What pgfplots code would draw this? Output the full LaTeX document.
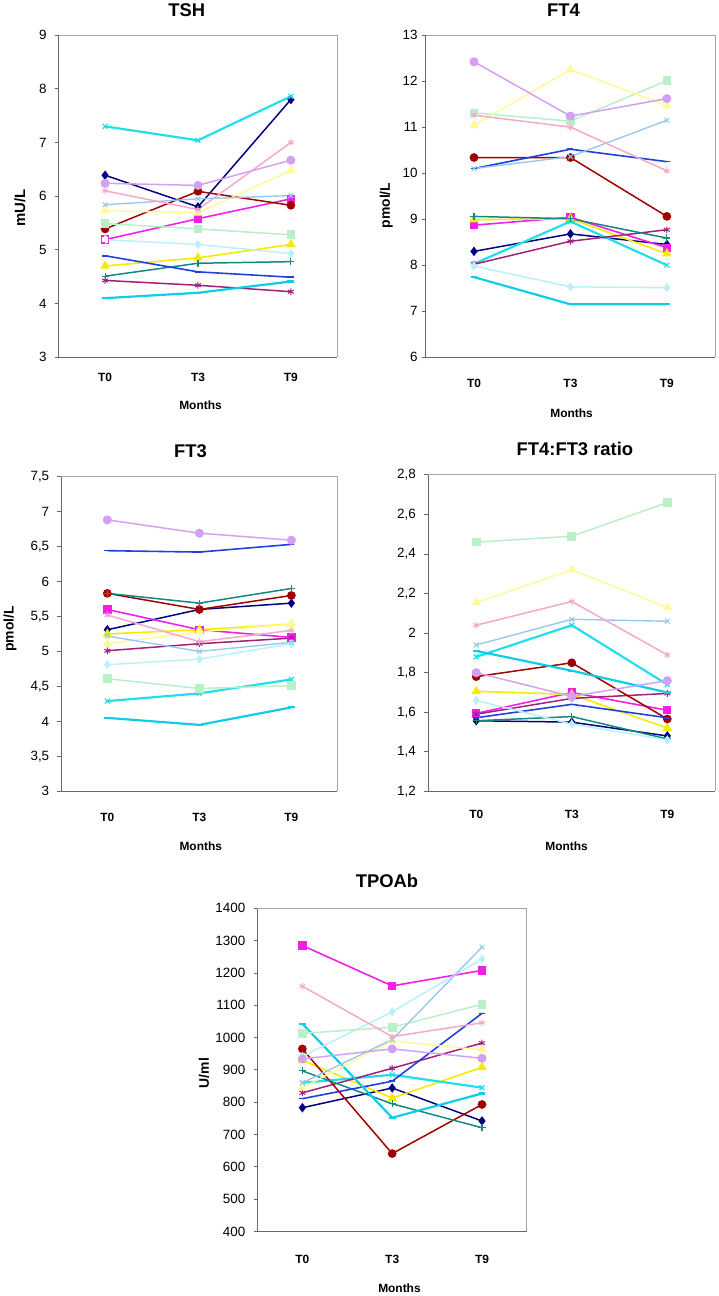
\documentclass[border=0pt]{standalone}
\usepackage{fontspec}
\setmainfont{Liberation Sans}
\usepackage{pgfplots}
\usepackage{pgfplotstable}
\pgfplotsset{compat=1.18}

% Excel-style series colours
\definecolor{cNavy}{HTML}{000080}
\definecolor{cMag}{HTML}{F020E8}
\definecolor{cYel}{HTML}{F4EC00}
\definecolor{cCyan}{HTML}{22DDEE}
\definecolor{cPur}{HTML}{A0207A}
\definecolor{cDred}{HTML}{A00000}
\definecolor{cTeal}{HTML}{108A80}
\definecolor{cBlue}{HTML}{2040DD}
\definecolor{cSky}{HTML}{10CCE8}
\definecolor{cLturq}{HTML}{B8F2F8}
\definecolor{cLgreen}{HTML}{B8F0C8}
\definecolor{cLyel}{HTML}{FFFA99}
\definecolor{cPblue}{HTML}{99C8EE}
\definecolor{cRose}{HTML}{F4A8CC}
\definecolor{cLav}{HTML}{D4A0F4}

% columns: s1 navy, s2 magenta, s3 yellow, s4 cyan, s5 purple, s6 dark red, s7 teal,
% s8 blue, s9 sky, s10 light turquoise, s11 light green, s12 light yellow,
% s13 pale blue, s14 rose, s15 lavender
\pgfplotstableread{
x s1 s2 s3 s4 s5 s6 s7 s8 s9 s10 s11 s12 s13 s14 s15
0 6.39 5.19 4.70 7.30 4.43 5.39 4.51 4.89 4.10 5.19 5.49 5.73 5.84 6.10 6.24
1 5.80 5.58 4.85 7.04 4.34 6.09 4.75 4.59 4.20 5.10 5.39 5.69 5.95 5.75 6.20
2 7.80 5.95 5.10 7.86 4.22 5.83 4.78 4.49 4.41 4.93 5.28 6.48 6.01 7.00 6.67
}\tsh

\pgfplotstableread{
x s1 s2 s3 s4 s5 s6 s7 s8 s9 s10 s11 s12 s13 s14 s15
0 8.30 8.87 8.99 8.03 8.02 10.34 9.06 10.10 7.74 7.98 11.31 11.04 10.10 11.26 12.42
1 8.68 9.04 9.01 8.95 8.52 10.34 9.01 10.52 7.15 7.53 11.13 12.25 10.36 11.00 11.24
2 8.45 8.38 8.25 8.00 8.77 9.06 8.59 10.25 7.15 7.51 12.01 11.47 11.15 10.05 11.62
}\ftfour

\pgfplotstableread{
x s1 s2 s3 s4 s5 s6 s7 s8 s9 s10 s11 s12 s13 s14 s15
0 5.31 5.60 5.25 4.29 5.01 5.83 5.83 6.44 4.05 4.81 4.61 5.11 5.22 5.52 6.88
1 5.60 5.31 5.31 4.40 5.11 5.60 5.69 6.42 3.95 4.89 4.47 5.28 5.00 5.14 6.69
2 5.69 5.20 5.39 4.60 5.19 5.80 5.90 6.53 4.20 5.11 4.51 5.39 5.13 5.30 6.59
}\ftthree

\pgfplotstableread{
x s1 s2 s3 s4 s5 s6 s7 s8 s9 s10 s11 s12 s13 s14 s15
0 1.557 1.594 1.706 1.88 1.59 1.78 1.557 1.572 1.91 1.66 2.46 2.155 1.94 2.04 1.80
1 1.55 1.70 1.69 2.04 1.67 1.85 1.578 1.64 1.81 1.54 2.49 2.32 2.07 2.16 1.68
2 1.48 1.61 1.52 1.74 1.695 1.566 1.465 1.572 1.70 1.46 2.66 2.13 2.06 1.89 1.76
}\ratio

\pgfplotstableread{
x s1 s2 s3 s4 s5 s6 s7 s8 s9 s10 s11 s12 s13 s14 s15
0 783 1285 930 860 829 965 897 811 1043 942 1013 845 860 1159 934
1 844 1160 813 885 905 641 795 865 752 1080 1032 990 994 1003 965
2 742 1208 908 845 983 793 721 1075 827 1243 1103 962 1280 1046 936
}\tpo

\pgfplotsset{
  s1/.style={cNavy, line width=1.5pt, mark=diamond*, mark size=3.6pt},
  s2/.style={cMag, line width=1.6pt, mark=square*, mark size=3.4pt},
  s3/.style={cYel, line width=1.6pt, mark=triangle*, mark size=4pt},
  s4/.style={cCyan, line width=2.2pt, mark=x, mark size=3.4pt, mark options={line width=1.3pt}},
  s5/.style={cPur, line width=1.5pt, mark=asterisk, mark size=3.4pt, mark options={line width=1pt}},
  s6/.style={cDred, line width=1.5pt, mark=*, mark size=3.6pt},
  s7/.style={cTeal, line width=1.5pt, mark=+, mark size=3.6pt, mark options={line width=1.1pt}},
  s8/.style={cBlue, line width=1.6pt, mark=-, mark size=3pt},
  s9/.style={cSky, line width=2.2pt, mark=-, mark size=3.5pt},
  s10/.style={cLturq, line width=1.5pt, mark=diamond*, mark size=3.4pt},
  s11/.style={cLgreen, line width=1.5pt, mark=square*, mark size=3.6pt},
  s12/.style={cLyel, line width=1.5pt, mark=triangle*, mark size=4pt},
  s13/.style={cPblue, line width=1.4pt, mark=x, mark size=3.4pt, mark options={line width=1.1pt}},
  s14/.style={cRose, line width=1.5pt, mark=asterisk, mark size=3.4pt, mark options={line width=1pt}},
  s15/.style={cLav, line width=1.5pt, mark=*, mark size=3.8pt},
  panel/.style={
    scale only axis, anchor=south west,
    xmin=-0.5, xmax=2.5, xtick={0,1,2}, xticklabels={T0,T3,T9},
    axis lines*=left,
    axis line style={draw=black!60, line width=0.9pt},
    tick align=outside, major tick length=4pt,
    xtick style={draw=none},
    ytick style={draw=black!60, line width=0.9pt},
    /pgf/number format/assume math mode=true,
    yticklabel style={font=\fontsize{13.5}{13.5}\selectfont, anchor=east, inner sep=0pt},
    xticklabel style={font=\bfseries\fontsize{12}{12}\selectfont, anchor=center},
    title style={font=\bfseries\fontsize{18.5}{18.5}\selectfont, anchor=center},
    xlabel style={font=\bfseries\fontsize{12}{12}\selectfont, anchor=center},
    ylabel style={font=\bfseries\fontsize{14}{14}\selectfont, anchor=center},
    extra description/.code={
      \draw[black!35, line width=0.9pt] (0,1) -- (1,1) -- (1,0);
    },
  },
  commadec/.style={
    yticklabel style={/pgf/number format/fixed, /pgf/number format/use comma,
      /pgf/number format/precision=1},
  },
}

\newcommand\allseries[1]{%
  \addplot[s1] table[x=x,y=s1]{#1};
  \addplot[s2] table[x=x,y=s2]{#1};
  \addplot[s3] table[x=x,y=s3]{#1};
  \addplot[s4] table[x=x,y=s4]{#1};
  \addplot[s5] table[x=x,y=s5]{#1};
  \addplot[s6] table[x=x,y=s6]{#1};
  \addplot[s7] table[x=x,y=s7]{#1};
  \addplot[s8] table[x=x,y=s8]{#1};
  \addplot[s9] table[x=x,y=s9]{#1};
  \addplot[s10] table[x=x,y=s10]{#1};
  \addplot[s11] table[x=x,y=s11]{#1};
  \addplot[s12] table[x=x,y=s12]{#1};
  \addplot[s13] table[x=x,y=s13]{#1};
  \addplot[s14] table[x=x,y=s14]{#1};
  \addplot[s15] table[x=x,y=s15]{#1};
}

\begin{document}
\begin{tikzpicture}
\path (0,0) rectangle (723pt,-1296pt);

% TSH
\begin{axis}[panel, at={(59pt,-353.3pt)}, width=280.3pt, height=324pt,
  ymin=3, ymax=9, ytick={3,4,...,9},
  title={TSH}, title style={at={(0.46,1.06)}},
  xlabel={Months}, xlabel style={at={(0.509,-0.149)}},
  ylabel={mU/L}, ylabel style={at={(-0.139,0.464)}, font=\bfseries\fontsize{15}{15}\selectfont},
  xticklabel style={yshift=-16pt}, yticklabel style={xshift=-8pt}]
  \allseries{\tsh}
  % hollow dashed marker at T0 for the magenta series
  \addplot[only marks, mark=square*, mark size=3.4pt,
    mark options={draw=cMag, fill=white, dashed, line width=1.2pt}] coordinates {(0,5.19)};
\end{axis}

% FT4
\begin{axis}[panel, at={(428.3pt,-353.3pt)}, width=291pt, height=324pt,
  ymin=6, ymax=13, ytick={6,7,...,13},
  title={FT4}, title style={at={(0.476,1.06)}},
  xlabel={Months}, xlabel style={at={(0.504,-0.173)}},
  ylabel={pmol/L}, ylabel style={at={(-0.137,0.471)}},
  xticklabel style={yshift=-22.7pt}, yticklabel style={xshift=-4pt}]
  \allseries{\ftfour}
\end{axis}

% FT3
\begin{axis}[panel, commadec, at={(61.7pt,-790pt)}, width=277.7pt, height=316.7pt,
  ymin=3, ymax=7.5, ytick={3,3.5,...,7.5},
  title={FT3}, title style={at={(0.468,1.063)}},
  xlabel={Months}, xlabel style={at={(0.505,-0.174)}},
  ylabel={pmol/L}, ylabel style={at={(-0.186,0.516)}},
  xticklabel style={yshift=-22pt}, yticklabel style={xshift=-8pt}]
  \allseries{\ftthree}
\end{axis}

% FT4:FT3 ratio
\begin{axis}[panel, commadec, at={(431pt,-790pt)}, width=288.3pt, height=318.3pt,
  ymin=1.2, ymax=2.8, ytick={1.2,1.4,...,2.8},
  title={FT4:FT3 ratio}, title style={at={(0.511,1.063)}},
  xlabel={Months}, xlabel style={at={(0.482,-0.173)}},
  xticklabel style={yshift=-19.3pt}, yticklabel style={xshift=-8.5pt}]
  \allseries{\ratio}
\end{axis}

% TPOAb
\begin{axis}[panel, at={(259pt,-1232.7pt)}, width=271pt, height=325pt,
  ymin=400, ymax=1400, ytick={400,500,...,1400},
  yticklabel style={/pgf/number format/1000 sep={}},
  title={TPOAb}, title style={at={(0.481,1.065)}},
  xlabel={Months}, xlabel style={at={(0.527,-0.176)}},
  ylabel={U/ml}, ylabel style={at={(-0.199,0.49)}},
  xticklabel style={yshift=-24.3pt}, yticklabel style={xshift=-8pt}]
  \allseries{\tpo}
\end{axis}
\end{tikzpicture}
\end{document}
